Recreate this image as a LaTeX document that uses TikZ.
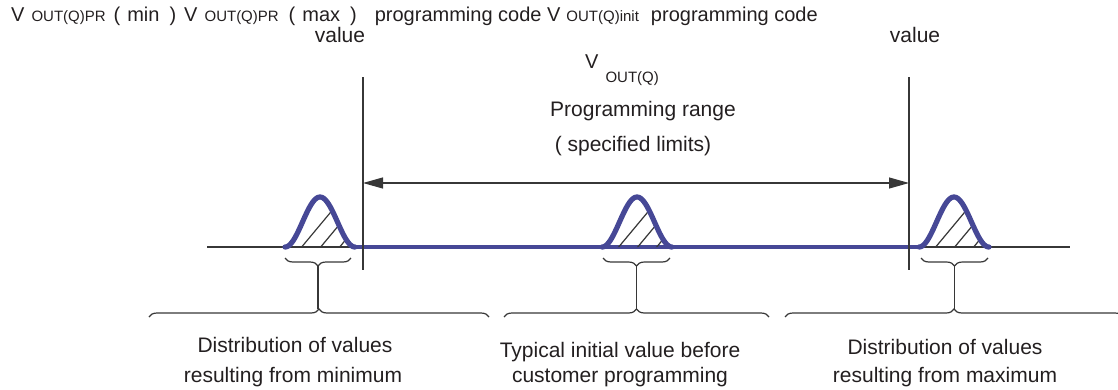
\documentclass[tikz,border=0pt]{standalone}
\usepackage{fontspec}
\setmainfont{Liberation Sans}
\usetikzlibrary{arrows.meta,decorations.pathreplacing}
\definecolor{bl}{RGB}{70,72,150}
\definecolor{ln}{RGB}{55,55,55}
\definecolor{tx}{RGB}{35,31,32}
\newcommand\sbx[1]{{\fontsize{15}{15}\selectfont #1}}
\newcommand\bellat[1]{%
  \begin{scope}
    \clip plot[domain=-35:35, samples=61] ({#1+\x},{247-25*(1+cos(180*\x/35))}) -- cycle;
    \foreach \o in {-20,-1,18} \draw[hatch] (#1+\o,249) -- ++(60,-72);
  \end{scope}
  \draw[bell] plot[domain=-35:35, samples=61] ({#1+\x},{247-25*(1+cos(180*\x/35))});
}
\begin{document}
\begin{tikzpicture}[x=1pt,y=-1pt,
  lbl/.style={inner sep=0pt, text=tx, font=\fontsize{21}{30}\selectfont},
  thinln/.style={draw=ln, line width=1.1pt},
  bluel/.style={draw=bl, line width=4pt},
  bell/.style={draw=bl, line width=5.2pt, line cap=round, line join=round},
  hatch/.style={draw=ln, line width=1.2pt},
  brc/.style={draw=ln, line width=1.2pt, decorate, decoration={brace, amplitude=8pt}},
  brcm/.style={draw=ln, line width=1.2pt, decorate, decoration={brace, mirror, amplitude=8pt}},
  arr/.style={thinln, {Triangle[length=20pt,width=11pt]}-{Triangle[length=20pt,width=11pt]}},
]
\useasboundingbox (0,0) rectangle (1118,389);
\clip (0,0) rectangle (1118,389);

% axis
\coordinate (axL) at (207,247);
\coordinate (axR) at (1070,247);
\draw[thinln] (axL) -- (axR);

% blue programming line
\coordinate (blL) at (355,247);
\coordinate (blR) at (919,247);
\draw[bluel] (blL) -- (blR);

% bells
\bellat{320}
\bellat{637}
\bellat{954}

% vertical limit lines
\coordinate (vlT) at (363,77);
\coordinate (vlB) at (363,270);
\coordinate (vrT) at (909,77);
\coordinate (vrB) at (909,270);
\draw[thinln] (vlT) -- (vlB);
\draw[thinln] (vrT) -- (vrB);

% range arrow
\coordinate (aL) at (363,183);
\coordinate (aR) at (909,183);
\draw[arr] (aL) -- (aR);

% small braces
\coordinate (s1a) at (285,258); \coordinate (s1b) at (351,258);
\coordinate (s2a) at (603,258); \coordinate (s2b) at (670,258);
\coordinate (s3a) at (921,258); \coordinate (s3b) at (988,258);
\draw[brcm] (s1a) -- (s1b);
\draw[brcm] (s2a) -- (s2b);
\draw[brcm] (s3a) -- (s3b);

% big braces
\coordinate (b1a) at (149,317); \coordinate (b1b) at (489,317);
\coordinate (b2a) at (504,317); \coordinate (b2b) at (769,317);
\coordinate (b3a) at (785,317); \coordinate (b3b) at (1123,317);
\draw[brc] (b1a) -- (b1b);
\draw[brc] (b2a) -- (b2b);
\draw[brc] (b3a) -- (b3b);

% connectors brace tip to brace tip
\coordinate (t1) at (318,266); \coordinate (u1) at (318,309);
\coordinate (t2) at (636.5,266); \coordinate (u2) at (636.5,309);
\coordinate (t3) at (954.5,266); \coordinate (u3) at (954.5,309);
\draw[thinln] (t1) -- (u1);
\draw[thinln] (t2) -- (u2);
\draw[thinln] (t3) -- (u3);

% texts
\node[lbl, anchor=base west, font=\fontsize{20}{24}\selectfont] (top) at (11,21)
  {V\hspace{7pt}\sbx{OUT(Q)PR}\hspace{8pt}(\hspace{7pt}min\hspace{10pt})\hspace{8pt}V\hspace{7pt}\sbx{OUT(Q)PR}\hspace{10pt}(\hspace{7pt}max\hspace{10pt})\hspace{18pt}programming code V\hspace{6pt}\sbx{OUT(Q)init}\hspace{12pt}programming code};
\node[lbl, anchor=base] (valL) at (340,42) {value};
\node[lbl, anchor=base] (valR) at (915,42) {value};
\node[lbl, anchor=base west, font=\fontsize{20}{24}\selectfont] (vout) at (585,68) {V\hspace{7pt}\raisebox{-14pt}{\sbx{OUT(Q)}}};
\node[lbl, anchor=base] (prange) at (643,116) {Programming range};
\node[lbl, anchor=base] (spec) at (633,151) {( specified limits)};

\node[lbl, anchor=base] (d1a) at (295,352) {Distribution of values};
\node[lbl, anchor=base] (d1b) at (293,382) {resulting from minimum};
\node[lbl, anchor=base] (d2a) at (620,357) {Typical initial value before};
\node[lbl, anchor=base] (d2b) at (620,382) {customer programming};
\node[lbl, anchor=base] (d3a) at (945,354) {Distribution of values};
\node[lbl, anchor=base] (d3b) at (945,382) {resulting from maximum};
\end{tikzpicture}
\end{document}
